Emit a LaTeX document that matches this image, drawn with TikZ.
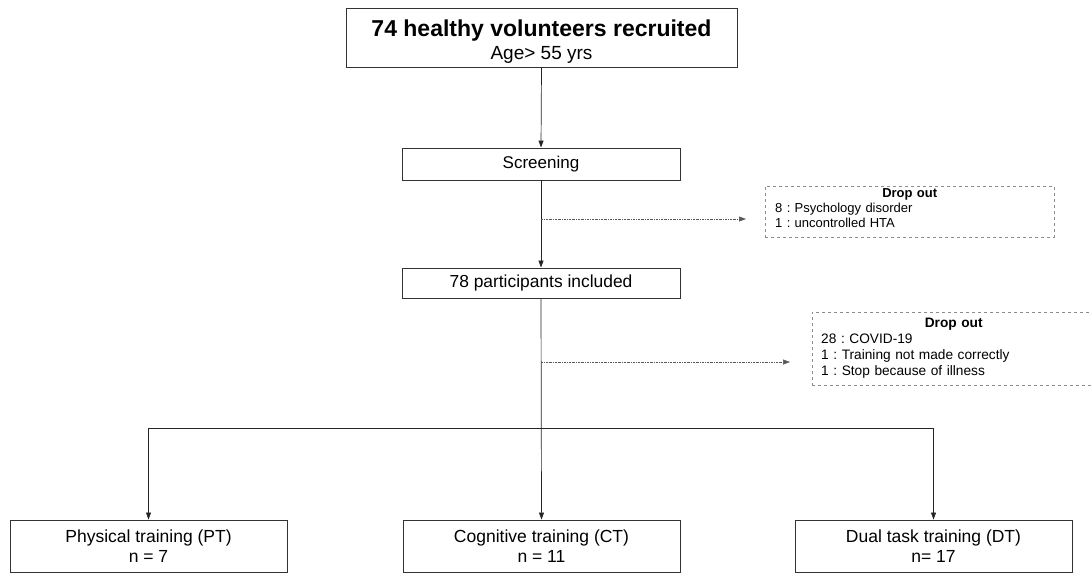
\documentclass[tikz,border=0pt]{standalone}
\usepackage{fontspec}
\setmainfont{Liberation Sans}
\usetikzlibrary{arrows.meta}
\frenchspacing
\begin{document}
\begin{tikzpicture}[x=1pt,y=-1pt,
    box/.style={draw=black!80,line width=0.9pt,inner sep=0pt,align=center},
    dropbox/.style={draw=black!45,dashed,line width=0.8pt,inner sep=0pt,anchor=north west},
    arr/.style={draw=black!85,line width=0.7pt,-{Triangle[length=7pt,width=5pt]}},
    dotarr/.style={draw=black!65,line width=0.6pt,dash pattern=on 2pt off 1pt on 0.6pt off 1pt,-{Triangle[length=7pt,width=5pt]}}]
            \useasboundingbox (0,0) rectangle (1091,574);
            \node [box,minimum width=391pt,minimum height=59pt] (recruit) at (541.5,37.5) {\rule{0pt}{25pt}\fontsize{23}{26}\selectfont\bfseries 74 healthy volunteers recruited\\[4pt]\fontsize{19}{21}\selectfont Age> 55 yrs};
            \node [box,minimum width=278pt,minimum height=32pt,font=\fontsize{17}{20}\selectfont] (screen) at (541,164) {Screening};
            \node [box,minimum width=278pt,minimum height=30pt,font=\fontsize{17.4}{20}\selectfont] (incl) at (541,283) {78 participants included};
            \node [dropbox,minimum width=289pt,minimum height=51pt] (drop1) at (765,186) {};
            \node [anchor=north west,inner sep=0pt,text width=280pt,align=left,font=\fontsize{13}{15}\selectfont] (drop1txt) at (775,188.5) {\makebox[269pt]{\bfseries Drop out}\\8 : Psychology disorder\\1 : uncontrolled HTA};
            \node [dropbox,minimum width=288pt,minimum height=73pt] (drop2) at (812,312) {};
            \node [anchor=north west,inner sep=0pt,text width=280pt,align=left,font=\fontsize{13.7}{15.9}\selectfont] (drop2txt) at (821,318) {\makebox[265pt]{\bfseries Drop out}\\28 : COVID-19\\1 : Training not made correctly\\1 : Stop because of illness};
            \node [box,minimum width=277pt,minimum height=52pt,font=\fontsize{17.5}{20}\selectfont] (pt) at (148.5,546) {Physical training (PT)\\n = 7};
            \node [box,minimum width=277pt,minimum height=52pt,font=\fontsize{17.5}{20}\selectfont] (ct) at (541.5,546) {Cognitive training (CT)\\n = 11};
            \node [box,minimum width=277pt,minimum height=52pt,font=\fontsize{17.5}{20}\selectfont] (dt) at (933.5,546) {Dual task training (DT)\\n= 17};
            \coordinate (d1s) at (541,219);
            \coordinate (d1e) at (746,219);
            \coordinate (d2s) at (541,362);
            \coordinate (d2e) at (790,362);
            \coordinate (split) at (541,428);
            \draw [arr] (recruit.south) -- (screen.north);
            \draw [arr] (screen.south) -- (incl.north);
            \draw [arr] (incl.south) -- (ct.north);
            \draw [arr] (split) -| (pt.north);
            \draw [arr] (split) -| (dt.north);
            \draw [dotarr] (d1s) -- (d1e);
            \draw [dotarr] (d2s) -- (d2e);
        \end{tikzpicture}
\end{document}
